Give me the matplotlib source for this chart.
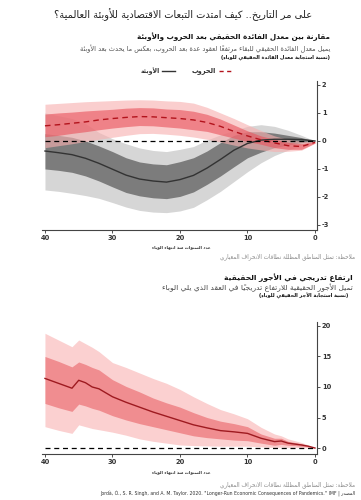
import matplotlib
matplotlib.use("Agg")
import matplotlib.pyplot as plt
from matplotlib.lines import Line2D

# ---------------- Arabic shaping helpers ----------------
_counts = [1,2,2,2,2,4,2,4,2,4,4,4,4,4,2,2,2,2,4,4,4,4,4,4,4,4,4,4,4,4,4,4,4,2,2,4]
_bases = [chr(c) for c in range(0x0621, 0x063B)] + [chr(c) for c in range(0x0641, 0x064B)]
FORMS = {}
_p = 0xFE80
for _b, _n in zip(_bases, _counts):
    if _n == 1:
        FORMS[_b] = (chr(_p), None, None, None)
    elif _n == 2:
        FORMS[_b] = (chr(_p), chr(_p + 1), None, None)
    else:
        FORMS[_b] = (chr(_p), chr(_p + 1), chr(_p + 2), chr(_p + 3))
    _p += _n
LAMALEF = {'\u0622': ('\uFEF5', '\uFEF6'), '\u0623': ('\uFEF7', '\uFEF8'),
           '\u0625': ('\uFEF9', '\uFEFA'), '\u0627': ('\uFEFB', '\uFEFC')}
MIRROR = {'(': ')', ')': '('}


def _mark(c):
    return 0x064B <= ord(c) <= 0x065F or ord(c) == 0x0670


def ar(s):
    ch = list(s)
    n = len(ch)

    def prev_l(i):
        j = i - 1
        while j >= 0 and _mark(ch[j]):
            j -= 1
        return ch[j] if j >= 0 else None

    def next_l(i):
        j = i + 1
        while j < n and _mark(ch[j]):
            j += 1
        return (ch[j], j) if j < n else (None, n)

    out = []
    i = 0
    while i < n:
        c = ch[i]
        if c in FORMS:
            p = prev_l(i)
            jp = p is not None and p in FORMS and FORMS[p][2] is not None
            nx, k = next_l(i)
            if c == '\u0644' and nx in LAMALEF:
                iso, fin = LAMALEF[nx]
                out.append(fin if jp else iso)
                i = k + 1
                continue
            f = FORMS[c]
            jn = f[2] is not None and nx is not None and nx in FORMS and FORMS[nx][1] is not None
            jp = jp and f[1] is not None
            if jp and jn:
                g = f[3]
            elif jp:
                g = f[1]
            elif jn:
                g = f[2]
            else:
                g = f[0]
            out.append(g)
        else:
            out.append(MIRROR.get(c, c))
        i += 1
    clusters = []
    for c in out:
        if _mark(c) and clusters:
            clusters[-1] += c
        else:
            clusters.append(c)
    return ''.join(reversed(clusters))


# ---------------- Data ----------------
years_top = [40, 38, 36, 34, 32, 30, 28, 26, 24, 22, 20, 18, 16, 14, 12, 10, 8, 6, 4, 2, 0]

pand_mean = [-0.36, -0.42, -0.49, -0.62, -0.80, -1.01, -1.22, -1.36, -1.43, -1.47, -1.38,
             -1.23, -0.97, -0.66, -0.33, -0.09, 0.03, 0.06, 0.06, 0.05, 0.0]
pand_dark_hi = [0.26, 0.20, 0.13, 0.0, -0.18, -0.38, -0.60, -0.75, -0.82, -0.85, -0.74,
                -0.60, -0.36, -0.06, 0.20, 0.33, 0.33, 0.28, 0.20, 0.12, 0.0]
pand_dark_lo = [-1.0, -1.05, -1.12, -1.25, -1.43, -1.64, -1.84, -1.96, -2.03, -2.06, -1.98,
                -1.82, -1.55, -1.25, -0.92, -0.60, -0.40, -0.24, -0.14, -0.07, 0.0]
pand_light_hi = [1.0, 0.9, 0.8, 0.62, 0.30, 0.08, -0.10, -0.25, -0.34, -0.38, -0.30,
                 -0.20, 0.03, 0.22, 0.37, 0.52, 0.58, 0.52, 0.38, 0.20, 0.0]
pand_light_lo = [-1.75, -1.80, -1.87, -1.95, -2.05, -2.20, -2.36, -2.48, -2.54, -2.56, -2.50,
                 -2.37, -2.10, -1.80, -1.45, -1.10, -0.78, -0.52, -0.33, -0.16, 0.0]

war_mean = [0.54, 0.58, 0.63, 0.68, 0.75, 0.80, 0.84, 0.87, 0.86, 0.83, 0.80,
            0.75, 0.66, 0.52, 0.34, 0.18, 0.04, -0.07, -0.17, -0.20, -0.05]
war_dark_hi = [0.96, 1.0, 1.03, 1.07, 1.10, 1.13, 1.17, 1.19, 1.18, 1.14, 1.12,
               1.06, 0.95, 0.78, 0.57, 0.36, 0.18, 0.06, -0.05, -0.10, -0.02]
war_dark_lo = [0.15, 0.20, 0.27, 0.33, 0.40, 0.46, 0.51, 0.55, 0.54, 0.50, 0.46,
               0.40, 0.34, 0.22, 0.10, -0.02, -0.12, -0.24, -0.30, -0.30, -0.08]
war_light_hi = [1.31, 1.34, 1.37, 1.40, 1.42, 1.44, 1.46, 1.47, 1.46, 1.43, 1.41,
                1.35, 1.20, 1.0, 0.80, 0.58, 0.37, 0.18, 0.05, -0.02, -0.02]
war_light_lo = [-0.24, -0.17, -0.10, -0.02, 0.06, 0.13, 0.20, 0.26, 0.27, 0.24, 0.20,
                0.14, 0.06, -0.04, -0.15, -0.25, -0.32, -0.38, -0.37, -0.33, -0.08]

years_bot = [40, 38, 36, 35, 34, 33, 32, 30, 28, 26, 24, 22, 20, 18, 16, 14, 12, 10, 8, 6, 5, 4, 3, 2, 1, 0]
wage_mean = [11.4, 10.6, 9.8, 11.1, 10.7, 10.0, 9.7, 8.4, 7.5, 6.7, 5.9, 5.2, 4.5, 3.8, 3.3,
             2.85, 2.65, 2.4, 1.6, 1.05, 1.15, 0.8, 0.65, 0.5, 0.3, 0.0]
wage_dark_hi = [15.0, 14.2, 13.3, 14.1, 13.7, 13.2, 12.8, 11.2, 10.1, 9.2, 8.2, 7.4, 6.7, 5.8, 5.0,
                4.4, 4.0, 3.5, 2.3, 1.6, 1.6, 1.1, 0.9, 0.7, 0.4, 0.0]
wage_dark_lo = [7.3, 6.6, 6.0, 7.2, 6.9, 6.5, 6.2, 5.3, 4.6, 4.0, 3.5, 3.0, 2.5, 2.0, 1.7,
                1.5, 1.3, 1.2, 0.8, 0.45, 0.6, 0.45, 0.4, 0.3, 0.2, 0.0]
wage_light_hi = [18.8, 17.7, 16.6, 17.7, 17.1, 16.5, 15.8, 14.0, 13.2, 12.3, 11.4, 10.6, 9.6, 8.4, 7.3,
                 6.3, 5.6, 4.8, 3.4, 2.3, 2.0, 1.5, 1.2, 0.9, 0.5, 0.0]
wage_light_lo = [3.5, 2.9, 2.4, 3.8, 3.5, 3.2, 3.0, 2.6, 2.1, 1.5, 1.1, 0.8, 0.5, 0.4, 0.35,
                 0.3, 0.3, 0.3, 0.2, 0.1, 0.15, 0.1, 0.1, 0.05, 0.02, 0.0]

xticks = [40, 30, 20, 10, 0]
yticks_top = [2, 1, 0, -1, -2, -3]
yticks_bot = [0, 5, 10, 15, 20]

title = "على مر التاريخ.. كيف امتدت التبعات الاقتصادية للأوبئة العالمية؟"
t1_head = "مقارنة بين معدل الفائدة الحقيقي بعد الحروب والأوبئة"
t1_sub = "يميل معدل الفائدة الحقيقي للبقاء مرتفعاً لعقود عدة بعد الحروب، بعكس ما يحدث بعد الأوبئة"
t1_unit = "(نسبة استجابة معدل الفائدة الحقيقي للوباء)"
lab_war = "الحروب"
lab_pand = "الأوبئة"
xlab = "عدد السنوات منذ انتهاء الوباء"
note = "ملاحظة: تمثل المناطق المظللة نطاقات الانحراف المعياري"
t2_head = "ارتفاع تدريجي في الأجور الحقيقية"
t2_sub = "تميل الأجور الحقيقية للارتفاع تدريجياً في العقد الذي يلي الوباء"
t2_unit = "(نسبة استجابة الأجر الحقيقي للوباء)"
src_ar = "المصدر"
src_en = 'Jordà, Ò., S. R. Singh, and A. M. Taylor. 2020. "Longer-Run Economic Consequences of Pandemics." IMF | '

# ---------------- Figure ----------------
W, H = 361, 500
plt.rcParams['font.family'] = ['DejaVu Sans']
plt.rcParams['axes.unicode_minus'] = False
fig = plt.figure(figsize=(W / 100, H / 100), dpi=100)
fig.patch.set_facecolor('white')


def fx(x):
    return x / W


def fy(y):
    return 1 - y / H


def add_axes(x0, x1, ytop, ybot):
    return fig.add_axes([fx(x0), fy(ybot), fx(x1) - fx(x0), fy(ytop) - fy(ybot)])


def style(ax, yticks):
    for s in ['left', 'top']:
        ax.spines[s].set_visible(False)
    for s in ['right', 'bottom']:
        ax.spines[s].set_color('#444444')
        ax.spines[s].set_linewidth(0.8)
    ax.yaxis.tick_right()
    ax.set_xticks(xticks)
    ax.set_yticks(yticks)
    ax.tick_params(axis='both', labelsize=4.8, length=2, width=0.6, colors='#333333', pad=1.5)
    for lab in ax.get_xticklabels() + ax.get_yticklabels():
        lab.set_fontweight('bold')


# top chart
ax1 = add_axes(42, 317, 81, 230)
ax1.fill_between(years_top, pand_light_lo, pand_light_hi, color='#d6d6d6', lw=0)
ax1.fill_between(years_top, pand_dark_lo, pand_dark_hi, color='#7c7c7c', lw=0)
ax1.plot(years_top, pand_mean, color='#333333', lw=1.0)
ax1.fill_between(years_top, war_light_lo, war_light_hi, color='#f7b0b0', alpha=0.62, lw=0)
ax1.fill_between(years_top, war_dark_lo, war_dark_hi, color='#e9545d', alpha=0.62, lw=0)
ax1.plot(years_top, war_mean, color='#b3131c', lw=1.0, dashes=(4, 3))
ax1.plot([years_top[0], years_top[-1]], [0, 0], color='black', lw=0.9, dashes=(4, 3))
ax1.set_xlim(40.44, -0.3)
ax1.set_ylim(-3.18, 2.14)
style(ax1, yticks_top)

# bottom chart
ax2 = add_axes(42, 317, 322, 454)
ax2.fill_between(years_bot, wage_light_lo, wage_light_hi, color='#fbd0d0', lw=0)
ax2.fill_between(years_bot, wage_dark_lo, wage_dark_hi, color='#f08d90', lw=0)
ax2.plot(years_bot, wage_mean, color='#9e1a20', lw=1.0)
ax2.plot([years_bot[0], years_bot[-1]], [0, 0], color='black', lw=0.9, dashes=(4, 3))
ax2.set_xlim(40.44, -0.3)
ax2.set_ylim(-0.98, 20.65)
style(ax2, yticks_bot)

# ---------------- Texts ----------------
AR = ['DejaVu Sans']


def t(x, y, s, size, color='#222222', weight='normal', ha='right'):
    fig.text(fx(x), fy(y), s, fontsize=size, color=color, fontweight=weight,
             ha=ha, va='center', family=AR)


t(312, 15, ar(title), 7.1, color='#222222')
t(330, 37, ar(t1_head), 5.2, weight='bold', color='#111111')
t(330, 49, ar(t1_sub), 4.75, color='#555555')
t(330, 57, ar(t1_unit), 3.6, weight='bold', color='#111111')

# legend (RTL: text then handle on its right)
t(216, 71, ar(lab_war), 4.8, weight='bold', color='#333333')
fig.add_artist(Line2D([fx(219), fx(232)], [fy(71), fy(71)], color='#b3131c', lw=1.0, dashes=(3, 2.5)))
t(160, 71, ar(lab_pand), 4.5, weight='bold', color='#333333')
fig.add_artist(Line2D([fx(162), fx(175)], [fy(71), fy(71)], color='#333333', lw=1.0))

t(181, 247, ar(xlab), 3.0, weight='bold', color='#333333', ha='center')
t(355, 257, ar(note), 4.1, color='#888888')

t(353, 278, ar(t2_head), 5.4, weight='bold', color='#111111')
t(353, 288, ar(t2_sub), 5.4, color='#444444')
t(348, 296, ar(t2_unit), 3.6, weight='bold', color='#111111')

t(181, 472, ar(xlab), 3.0, weight='bold', color='#333333', ha='center')
t(355, 485, ar(note), 4.1, color='#888888')
t(355, 494, src_en + ar(src_ar), 3.35, color='#333333')

fig.savefig('out.png', dpi=100, facecolor='white')
